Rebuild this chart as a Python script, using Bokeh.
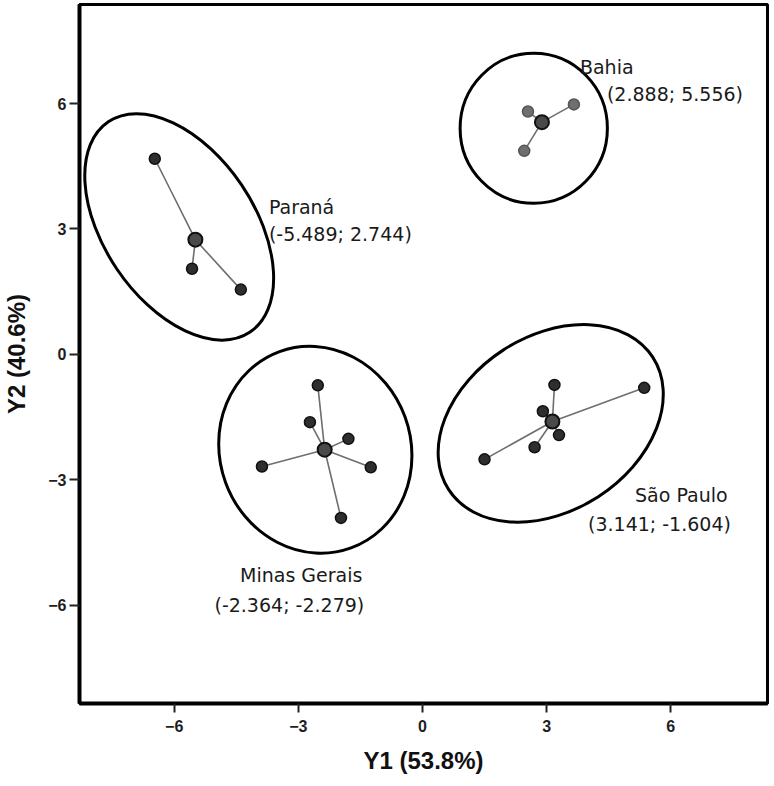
from bokeh.plotting import figure
from bokeh.models import Range1d, FixedTicker, ColumnDataSource
from bokeh.core.properties import value
from bokeh.embed import file_html
from bokeh.resources import INLINE

# ---- data ----
groups = ["Paraná", "Bahia", "Minas Gerais", "São Paulo"]
centroid_x = [-5.489, 2.888, -2.364, 3.141]
centroid_y = [2.744, 5.556, -2.279, -1.604]

parana_x = [-6.47, -5.57, -4.39]
parana_y = [4.68, 2.05, 1.55]
bahia_x = [2.55, 3.66, 2.46]
bahia_y = [5.81, 5.98, 4.87]
minas_x = [-2.53, -2.72, -1.79, -3.88, -1.25, -1.97]
minas_y = [-0.74, -1.62, -2.02, -2.68, -2.70, -3.91]
sp_x = [3.19, 2.91, 5.36, 1.50, 2.71, 3.30]
sp_y = [-0.73, -1.36, -0.80, -2.51, -2.22, -1.93]

# confidence ellipses (center, width, height, angle in degrees)
ell_x = [-5.88, 2.69, -2.59, 3.10]
ell_y = [3.05, 5.41, -2.28, -1.65]
ell_w = [6.13, 3.56, 5.05, 5.88]
ell_h = [3.60, 3.59, 4.57, 4.18]
ell_angle = [-56, 0, 110, 33]

x_ticks = [-6, -3, 0, 3, 6]
y_ticks = [-6, -3, 0, 3, 6]
x_title = "Y1 (53.8%)"
y_title = "Y2 (40.6%)"

members_x = [parana_x, bahia_x, minas_x, sp_x]
members_y = [parana_y, bahia_y, minas_y, sp_y]

# ---- figure ----
p = figure(width=770, height=786, output_backend="svg", toolbar_location=None,
           x_range=Range1d(-8.29, 8.34), y_range=Range1d(-8.35, 8.37),
           min_border_left=77, min_border_right=3, min_border_top=4, min_border_bottom=83)
p.background_fill_color = "white"
p.border_fill_color = "white"
p.outline_line_color = "black"
p.outline_line_width = 3
p.xgrid.visible = False
p.ygrid.visible = False

for ax, ticks, title in ((p.xaxis[0], x_ticks, x_title), (p.yaxis[0], y_ticks, y_title)):
    ax.ticker = FixedTicker(ticks=ticks)
    ax.axis_line_width = 4
    ax.axis_line_color = "black"
    ax.major_tick_in = 0
    ax.major_tick_line_width = 2
    ax.major_tick_line_color = "#222222"
    ax.minor_tick_line_color = None
    ax.major_label_text_font = "Liberation Sans"
    ax.major_label_text_font_size = "16px"
    ax.major_label_text_font_style = "bold"
    ax.major_label_text_color = "#1e1e1e"
    ax.axis_label = title
    ax.axis_label_text_font = "Liberation Sans"
    ax.axis_label_text_font_size = "24px"
    ax.axis_label_text_font_style = "bold"
    ax.axis_label_text_color = "#111111"

p.xaxis[0].major_tick_out = 9
p.xaxis[0].major_label_standoff = 7
p.xaxis[0].axis_label_standoff = 12
p.yaxis[0].major_tick_out = 10
p.yaxis[0].major_label_standoff = 3
p.yaxis[0].axis_label_standoff = 15

# ellipses
p.ellipse(x=ell_x, y=ell_y, width=ell_w, height=ell_h,
          angle=ell_angle, angle_units="deg",
          fill_color=None, line_color="black", line_width=3)

# spokes from centroid to members
sx0, sy0, sx1, sy1 = [], [], [], []
for cx, cy, mx, my in zip(centroid_x, centroid_y, members_x, members_y):
    for xx, yy in zip(mx, my):
        sx0.append(cx); sy0.append(cy); sx1.append(xx); sy1.append(yy)
p.segment(x0=sx0, y0=sy0, x1=sx1, y1=sy1, line_color="#6e6e6e", line_width=1.6)

# member points
for i, (mx, my) in enumerate(zip(members_x, members_y)):
    if groups[i] == "Bahia":
        p.scatter(mx, my, size=11, fill_color="#6f6f6f", line_color="#555555", line_width=1.5)
    else:
        p.scatter(mx, my, size=11, fill_color="#2e2e2e", line_color="#111111", line_width=1.5)

# centroids
p.scatter(centroid_x, centroid_y, size=14, fill_color="#4a4a4a", line_color="#111111", line_width=2)

# labels
name_dx = [73.5, 38, -84.6, 82.6]
name_dy = [-32.6, -55.6, 125.7, 73.3]
coord_dx = [73.5, 65, -110.2, 35.6]
coord_dy = [-6, -28, 155.7, 102.5]
coord_text = ["(%.3f; %.3f)" % (cx, cy) for cx, cy in zip(centroid_x, centroid_y)]

lab = ColumnDataSource(dict(x=centroid_x + centroid_x, y=centroid_y + centroid_y,
                            text=groups + coord_text,
                            dx=name_dx + coord_dx, dy=name_dy + coord_dy))
p.text(x="x", y="y", text="text", x_offset="dx", y_offset="dy", source=lab,
       text_font=value("DejaVu Sans"), text_font_size="19px", text_color="#1a1a1a",
       text_align="left", text_baseline="alphabetic")

open("out.html", "w").write(file_html(p, INLINE))
